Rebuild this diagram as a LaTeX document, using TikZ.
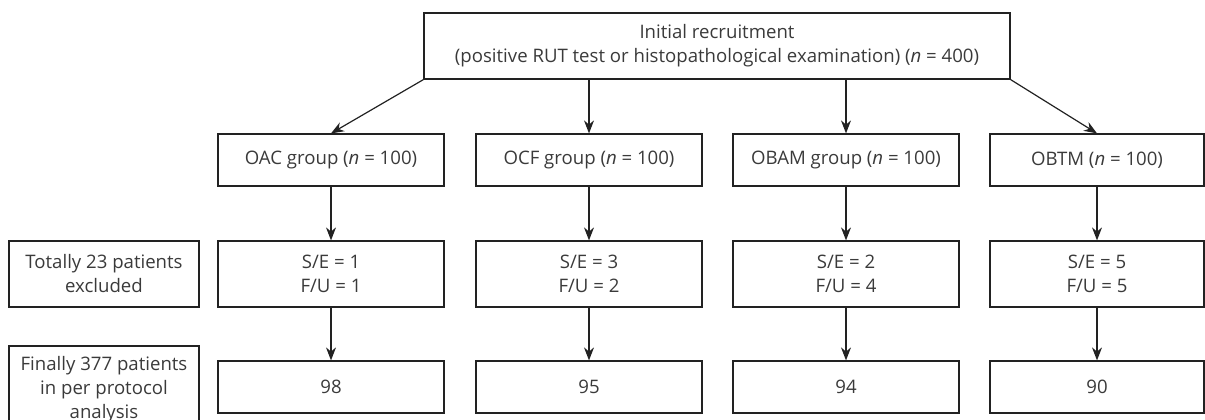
\documentclass[tikz,border=0pt]{standalone}
\usepackage{fontspec}
\setmainfont{Open Sans}
\usetikzlibrary{arrows.meta}
\definecolor{txt}{HTML}{3A3A3A}
\definecolor{ln}{HTML}{222222}
\begin{document}
\begin{tikzpicture}[x=1pt,y=-1pt,
  box/.style={draw=ln,line width=1.2pt,text=txt,align=center,inner sep=0pt,
    font=\fontsize{18.6}{24}\selectfont},
  arr/.style={draw=ln,line width=1.2pt,-{Stealth[length=13pt,width=10pt]}}]
\useasboundingbox (0,0) rectangle (1205,420);
\node[box,minimum width=586pt,minimum height=66pt] (top) at (717,46)
  {Initial recruitment\\(positive RUT test or histopathological examination) (\textit{n} = 400)};
\foreach \nm/\x/\lab in {oac/331/OAC group, ocf/589/OCF group, obam/846/OBAM group}{
  \node[box,minimum width=226pt,minimum height=52pt] (\nm) at (\x,160) {\lab\ (\textit{n} = 100)};
}
\node[box,minimum width=214pt,minimum height=52pt] (obtm) at (1097,160) {OBTM (\textit{n} = 100)};
\node[box,minimum width=226pt,minimum height=66pt] (e1) at (331,274) {S/E = 1\\F/U = 1};
\node[box,minimum width=226pt,minimum height=66pt] (e2) at (589,274) {S/E = 3\\F/U = 2};
\node[box,minimum width=226pt,minimum height=66pt] (e3) at (846,274) {S/E = 2\\F/U = 4};
\node[box,minimum width=214pt,minimum height=66pt] (e4) at (1097,274) {S/E = 5\\F/U = 5};
\node[box,minimum width=226pt,minimum height=52pt] (f1) at (331,387) {98};
\node[box,minimum width=226pt,minimum height=52pt] (f2) at (589,387) {95};
\node[box,minimum width=226pt,minimum height=52pt] (f3) at (846,387) {94};
\node[box,minimum width=214pt,minimum height=52pt] (f4) at (1097,387) {90};
\node[box,minimum width=190pt,minimum height=66pt] (lex) at (104,274) {Totally 23 patients\\excluded};
\node[box,minimum width=190pt,minimum height=88pt] (lfin) at (104,390) {Finally 377 patients\\in per protocol\\analysis};
\draw[arr] (top.south west) -- (oac.north);
\draw[arr] (top.south -| ocf.north) -- (ocf.north);
\draw[arr] (top.south -| obam.north) -- (obam.north);
\draw[arr] (top.south east) -- (obtm.north);
\foreach \a/\b/\c in {oac/e1/f1, ocf/e2/f2, obam/e3/f3, obtm/e4/f4}{
  \draw[arr] (\a.south) -- (\b.north);
  \draw[arr] (\b.south) -- (\c.north);
}
\end{tikzpicture}
\end{document}
